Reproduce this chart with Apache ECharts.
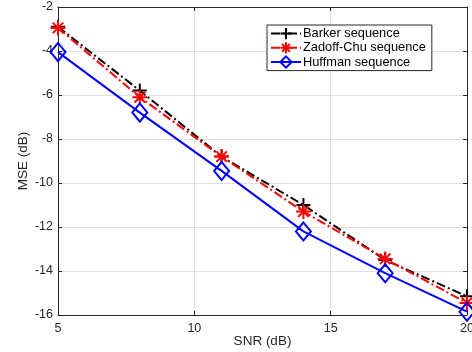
<!DOCTYPE html>
<html>
<head>
<meta charset="utf-8">
<script src="https://cdn.jsdelivr.net/npm/echarts@6/dist/echarts.min.js"></script>
<style>
  html, body { margin: 0; padding: 0; background: #fff; }
  #chart { width: 472px; height: 352px; }
</style>
</head>
<body>
<div id="chart"></div>
<script>
const snr = [5, 8, 11, 14, 17, 20];
const barker = [-2.9, -5.8, -8.8, -11.0, -13.5, -15.15];
const zadoffChu = [-2.95, -6.1, -8.8, -11.3, -13.45, -15.45];
const huffman = [-4.05, -6.8, -9.45, -12.2, -14.1, -15.85];

const xTicks = [5, 10, 15, 20];
const yTicks = [-16, -14, -12, -10, -8, -6, -4, -2];

const FONT = "Liberation Sans, Arial, sans-serif";
const TEXT = "#262626";

const plusPath = "path://M0,-1L0,1M-1,0L1,0";
const starPath = "path://M0,-1L0,1M-1,0L1,0M-0.7,-0.7L0.7,0.7M-0.7,0.7L0.7,-0.7";

const pair = (xs, ys) => xs.map((x, i) => [x, ys[i]]);

const chart = echarts.init(document.getElementById("chart"), null, { renderer: "canvas" });

const baseX = {
    type: "value", min: 5, max: 20, interval: 5,
    axisLine: { show: true, onZero: false, lineStyle: { color: TEXT, width: 1 } },
    axisTick: { show: true, inside: true, length: 4, lineStyle: { color: TEXT } },
    splitLine: { show: false }
};
const baseY = {
    type: "value", min: -16, max: -2, interval: 2,
    axisLine: { show: true, onZero: false, lineStyle: { color: TEXT, width: 1 } },
    axisTick: { show: true, inside: true, length: 4, lineStyle: { color: TEXT } },
    splitLine: { show: false }
};

const option = {
    animation: false,
    backgroundColor: "#fff",
    textStyle: { fontFamily: FONT },
    grid: { left: 58, right: 5, top: 7, bottom: 37, containLabel: false, outerBoundsMode: "none" },
    legend: {
        orient: "vertical",
        left: 267, top: 25,
        backgroundColor: "#fff",
        borderColor: TEXT, borderWidth: 1, borderRadius: 0,
        padding: [2, 6, 2, 3],
        itemGap: 1,
        itemWidth: 30, itemHeight: 14,
        textStyle: { fontFamily: FONT, fontSize: 12.8, color: "#000", padding: [0, 0, 0, -3] },
        data: ["Barker sequence", "Zadoff-Chu sequence", "Huffman sequence"]
    },
    xAxis: [
        Object.assign({}, baseX, {
            position: "bottom",
            name: "SNR (dB)", nameLocation: "middle", nameGap: 19, nameMoveOverlap: false,
            nameTextStyle: { fontFamily: FONT, fontSize: 13.5, color: TEXT },
            axisLabel: { show: true, margin: 7, fontSize: 12.5, color: TEXT, fontFamily: FONT,
                         customValues: xTicks },
            splitLine: { show: true, lineStyle: { color: "#e0e0e0", width: 1 } }
        }),
        Object.assign({}, baseX, { position: "top", axisLabel: { show: false } })
    ],
    yAxis: [
        Object.assign({}, baseY, {
            position: "left",
            name: "MSE (dB)", nameLocation: "middle", nameGap: 28, nameMoveOverlap: false,
            nameTextStyle: { fontFamily: FONT, fontSize: 13.5, color: TEXT },
            axisLabel: { show: true, margin: 5, fontSize: 12.5, color: TEXT, fontFamily: FONT,
                         customValues: yTicks },
            splitLine: { show: true, lineStyle: { color: "#e0e0e0", width: 1 } }
        }),
        Object.assign({}, baseY, { position: "right", axisLabel: { show: false } })
    ],
    series: [
        {
            name: "Barker sequence", type: "line", data: pair(snr, barker),
            symbol: plusPath, symbolSize: 14,
            lineStyle: { color: "#000", width: 2, type: [9, 3, 2, 3] },
            itemStyle: { color: "#000", borderColor: "#000", borderWidth: 2 },
            z: 2
        },
        {
            name: "Zadoff-Chu sequence", type: "line", data: pair(snr, zadoffChu),
            symbol: starPath, symbolSize: 15,
            lineStyle: { color: "#ff0000", width: 2, type: [9, 3, 2, 3] },
            itemStyle: { color: "#ff0000", borderColor: "#ff0000", borderWidth: 2 },
            z: 3
        },
        {
            name: "Huffman sequence", type: "line", data: pair(snr, huffman),
            symbol: "diamond", symbolSize: [15, 18],
            lineStyle: { color: "#0000ff", width: 2 },
            itemStyle: { color: "rgba(0,0,0,0)", borderColor: "#0000ff", borderWidth: 2 },
            z: 4
        }
    ]
};

chart.setOption(option);
</script>
</body>
</html>
